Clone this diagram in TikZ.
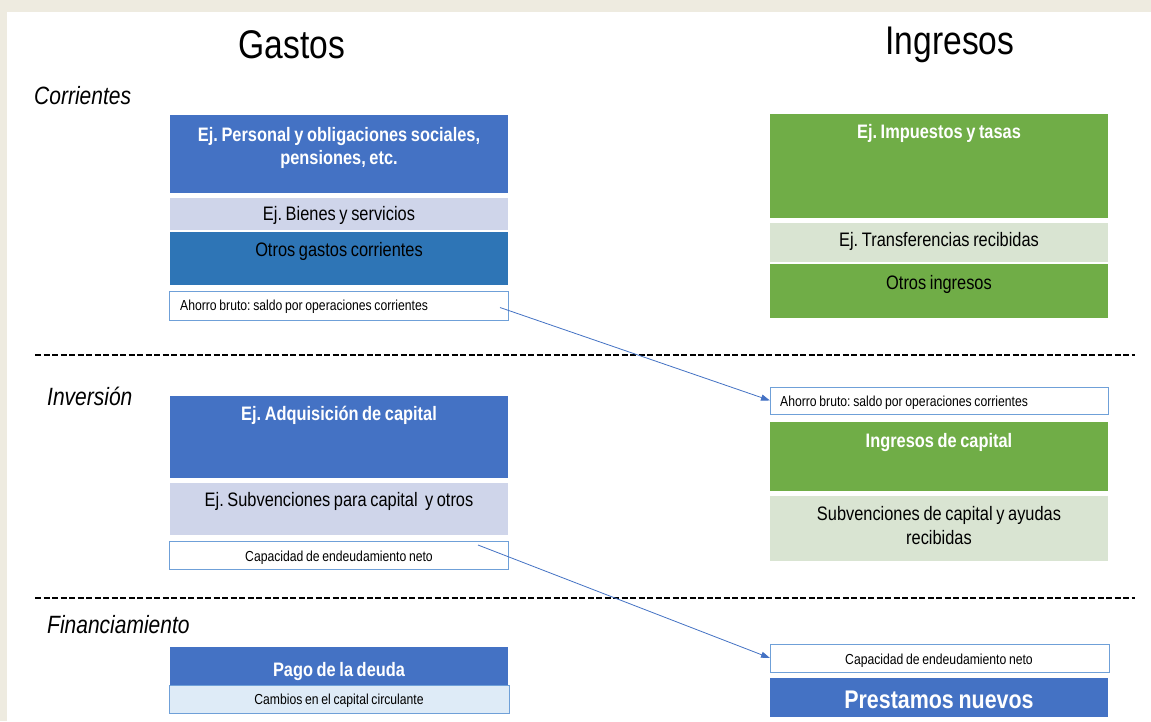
\documentclass[tikz,border=0pt]{standalone}
\usepackage{fontspec}
\setmainfont{Liberation Sans}[FakeStretch=0.84, WordSpace=0.8]
\usetikzlibrary{arrows.meta, positioning}
\frenchspacing
\definecolor{fondo}{HTML}{EEEBE0}
\definecolor{azul}{HTML}{4472C4}
\definecolor{azulmedio}{HTML}{2E75B6}
\definecolor{lila}{HTML}{CFD5EA}
\definecolor{verde}{HTML}{70AD47}
\definecolor{verdeclaro}{HTML}{D9E4D2}
\definecolor{celeste}{HTML}{DEEBF7}
\definecolor{borde}{HTML}{6FA0D8}
\tikzset{
  caja/.style={anchor=north west, inner sep=0pt, outer sep=0pt},
  marco/.style={caja, fill=white, draw=borde, line width=1pt},
  titulo/.style={inner sep=0pt, font=\fontsize{40}{44}\selectfont},
  seccion/.style={anchor=west, inner sep=0pt, font=\fontsize{25}{28}\selectfont\itshape},
  blanco/.style={inner sep=0pt, align=center, text=white, font=\fontsize{19.5}{23}\selectfont\bfseries},
  negro/.style={inner sep=0pt, align=center, font=\fontsize{19.5}{24}\selectfont},
  chico/.style={inner sep=0pt, font=\fontsize{14.5}{16}\selectfont},
  corte/.style={line width=1.2pt, dash pattern=on 6pt off 2.5pt},
  flecha/.style={draw=azul, line width=0.8pt, -{Triangle[length=9pt,width=6pt]}}
}
\begin{document}
\begin{tikzpicture}[x=1pt,y=-1pt]
\useasboundingbox (0,0) rectangle (1151,721);
% Fondo
\fill[fondo] (0,0) rectangle (1151,721);
\fill[white] (7,12) rectangle (1151,721);
% Titulos
\node[titulo] (gastos) at (292,45) {Gastos};
\node[titulo] (ingresos) at (950,45) {Ingresos};
\node[seccion] (corr) at (34,96) {Corrientes};
\node[seccion] (inv) at (47,396) {Inversión};
\node[seccion] (fin) at (47,625) {Financiamiento};
% Separadores
\draw[corte] (35,355) -- (1135,355);
\draw[corte] (35,598) -- (1135,598);
% Gastos corrientes
\node[caja, fill=azul, minimum width=338pt, minimum height=78pt] (pers) at (170,115) {};
\node[caja, fill=lila, minimum width=338pt, minimum height=32pt] (bienes) at (170,198) {};
\node[caja, fill=azulmedio, minimum width=338pt, minimum height=53pt] (otrosg) at (170,232) {};
\node[marco, minimum width=339pt, minimum height=29pt] (ahorroL) at (169,291) {};
\node[blanco] (tpers) at (339,148) {Ej. Personal y obligaciones sociales,\\pensiones, etc.};
\node[negro] (tbienes) at (339,215) {Ej. Bienes y servicios};
\node[negro] (totrosg) at (339,251) {Otros gastos corrientes};
\node[chico, anchor=west] (tahorroL) at (180,307) {Ahorro bruto: saldo por operaciones corrientes};
% Ingresos corrientes
\node[caja, fill=verde, minimum width=338pt, minimum height=104pt] (imp) at (770,114) {};
\node[caja, fill=verdeclaro, minimum width=338pt, minimum height=39pt] (transf) at (770,223) {};
\node[caja, fill=verde, minimum width=338pt, minimum height=54pt] (otrosi) at (770,264) {};
\node[blanco] (timp) at (939,133) {Ej. Impuestos y tasas};
\node[negro] (ttransf) at (939,241) {Ej. Transferencias recibidas};
\node[negro] (totrosi) at (939,284) {Otros ingresos};
% Gastos de inversion
\node[caja, fill=azul, minimum width=338pt, minimum height=82pt] (adq) at (170,396) {};
\node[caja, fill=lila, minimum width=338pt, minimum height=52pt] (subv) at (170,483) {};
\node[marco, minimum width=339pt, minimum height=28pt] (capL) at (169,541) {};
\node[blanco] (tadq) at (339,415) {Ej. Adquisición de capital};
\node[negro] (tsubv) at (339,501) {Ej. Subvenciones para capital\ \ y otros};
\node[chico] (tcapL) at (339,558) {Capacidad de endeudamiento neto};
% Ingresos de inversion
\node[marco, minimum width=338pt, minimum height=27pt] (ahorroR) at (770,387) {};
\node[caja, fill=verde, minimum width=338pt, minimum height=69pt] (ingcap) at (770,422) {};
\node[caja, fill=verdeclaro, minimum width=338pt, minimum height=65pt] (subcap) at (770,496) {};
\node[chico, anchor=west] (tahorroR) at (780,403) {Ahorro bruto: saldo por operaciones corrientes};
\node[blanco] (tingcap) at (939,442) {Ingresos de capital};
\node[negro] (tsubcap) at (939,526) {Subvenciones de capital y ayudas\\recibidas};
% Financiamiento
\node[caja, fill=azul, minimum width=338pt, minimum height=39pt] (pago) at (170,647) {};
\node[marco, fill=celeste, minimum width=340pt, minimum height=28pt] (cambios) at (169,685) {};
\node[blanco] (tpago) at (339,671) {Pago de la deuda};
\node[chico] (tcambios) at (339,701) {Cambios en el capital circulante};
\node[marco, minimum width=339pt, minimum height=28pt] (capR) at (770,644) {};
\node[caja, fill=azul, minimum width=338pt, minimum height=39pt] (prest) at (770,678) {};
\node[chico] (tcapR) at (939,661) {Capacidad de endeudamiento neto};
\node[blanco, font=\fontsize{25.5}{28}\selectfont\bfseries] (tprest) at (939,700) {Prestamos nuevos};
% Flechas
\draw[flecha] ([xshift=-8pt,yshift=-2pt]ahorroL.east) -- (ahorroR.west);
\draw[flecha] ([xshift=-30pt,yshift=-4pt]capL.north east) -- (capR.west);
\end{tikzpicture}
\end{document}
